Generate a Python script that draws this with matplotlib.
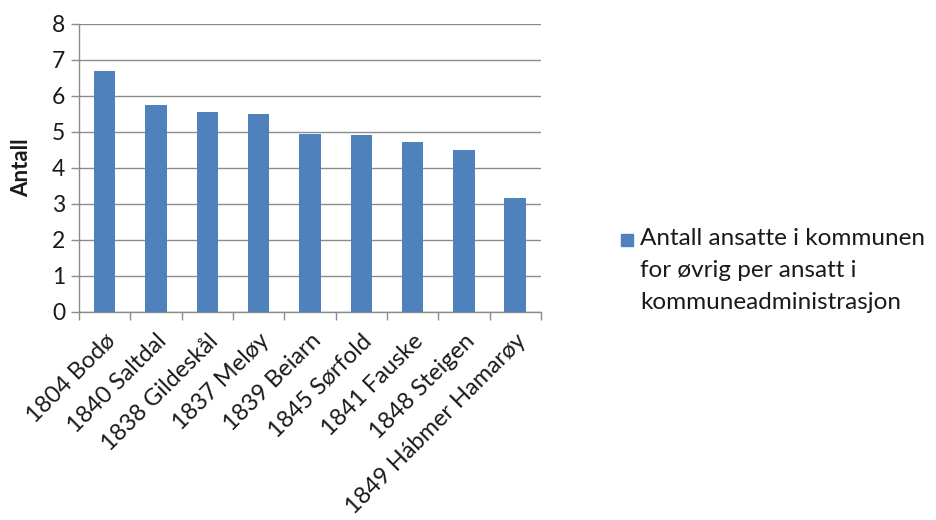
import matplotlib

matplotlib.use("Agg")
import matplotlib.pyplot as plt
from matplotlib.patches import Rectangle
from matplotlib.ticker import FixedLocator

plt.rcParams["font.family"] = ["Lato", "DejaVu Sans"]

# ── Data ───────────────────────────────────────────────
kommuner = [
    "1804 Bodø",
    "1840 Saltdal",
    "1838 Gildeskål",
    "1837 Meløy",
    "1839 Beiarn",
    "1845 Sørfold",
    "1841 Fauske",
    "1848 Steigen",
    "1849 Hábmer Hamarøy",
]
antall = [6.70, 5.74, 5.56, 5.51, 4.95, 4.91, 4.71, 4.49, 3.17]
serie_navn = "Antall ansatte i kommunen\nfor øvrig per ansatt i\nkommuneadministrasjon"

BAR_BLUE = "#4F81BD"
GRID_GREY = "#8C8C8C"
TEXT = "#1A1A1A"

# ── Plot ───────────────────────────────────────────────
fig = plt.figure(figsize=(9.37, 5.2), dpi=100)
ax = fig.add_axes([0.0843, 0.40, 0.493, 0.554])

x = range(len(kommuner))
ax.bar(x, antall, width=0.42, color=BAR_BLUE, zorder=3)

ax.set_xlim(-0.5, len(kommuner) - 0.5)
ax.set_ylim(0, 8)
ax.set_yticks(range(0, 9))
ax.grid(axis="y", color=GRID_GREY, linewidth=1.0, zorder=0)
ax.set_axisbelow(True)

for side in ["top", "right"]:
    ax.spines[side].set_visible(False)
for side in ["left", "bottom"]:
    ax.spines[side].set_color(GRID_GREY)
    ax.spines[side].set_linewidth(1.0)

ax.set_xticks(list(x))
ax.set_xticklabels(kommuner, rotation=45, ha="right", rotation_mode="anchor",
                   fontsize=17, color=TEXT)
ax.xaxis.set_minor_locator(FixedLocator([i - 0.5 for i in range(len(kommuner) + 1)]))
ax.tick_params(axis="x", which="major", length=0, pad=13)
ax.tick_params(axis="x", which="minor", length=6, color=GRID_GREY, width=1.0)
ax.tick_params(axis="y", length=6, color=GRID_GREY, width=1.0, labelsize=16.5,
               labelcolor=TEXT, pad=4)

ax.set_ylabel("Antall", fontsize=16, fontweight="bold", color=TEXT, labelpad=14)

# Legend (square aligned with first line, as in the original)
fig.add_artist(Rectangle((621 / 937, 1 - 246 / 520), 12 / 937, 12 / 520,
                         transform=fig.transFigure, color=BAR_BLUE))
fig.text(640 / 937, 1 - 228 / 520, serie_navn, ha="left", va="top",
         fontsize=17.5, color=TEXT, linespacing=1.65)

fig.savefig("out.png", dpi=100)
plt.close()
